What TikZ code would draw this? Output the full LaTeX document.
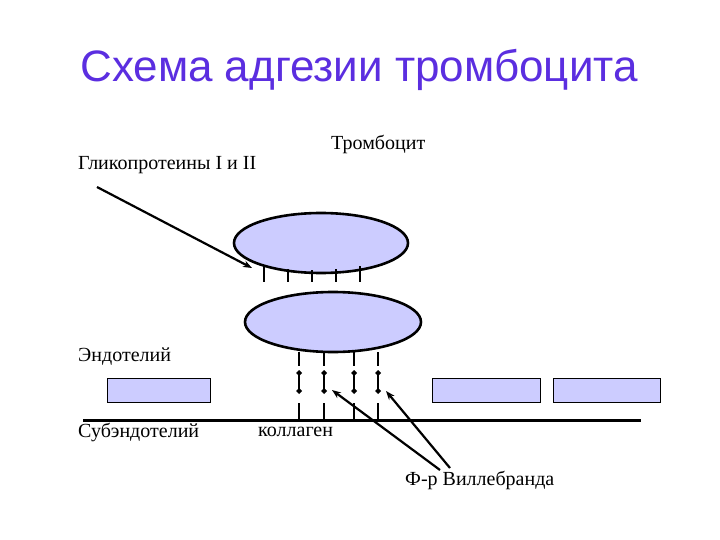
\documentclass[tikz,border=0pt]{standalone}
\usepackage{fontspec}
\setmainfont{Liberation Serif}
\newfontfamily\titlefont{Liberation Sans}
\usetikzlibrary{arrows.meta}
\definecolor{cellfill}{HTML}{CCCCFF}
\definecolor{titlecol}{HTML}{5B2EE0}
\begin{document}
\begin{tikzpicture}[x=1pt,y=-1pt,
  lbl/.style={anchor=west,inner sep=0pt,font=\fontsize{20}{24}\selectfont},
  tick/.style={line width=2.4pt},
  rectbox/.style={draw,line width=1pt,fill=cellfill},
  ptr/.style={line width=2.2pt,-{Stealth[length=9pt]}}]
\useasboundingbox (0,0) rectangle (720,540);
\node[font=\titlefont\fontsize{44}{50}\selectfont,text=titlecol] (title) at (359,70) {Схема адгезии тромбоцита};
\node[lbl] (trom) at (331,144) {Тромбоцит};
\node[lbl] (glyc) at (78,165) {Гликопротеины I и II};
\node[lbl] (endo) at (78,357) {Эндотелий};
\node[lbl] (sub) at (78,432) {Субэндотелий};
\node[lbl] (coll) at (258,432) {коллаген};
\node[lbl] (vwf) at (405,480) {Ф-р Виллебранда};
\filldraw[fill=cellfill,line width=2.6pt] (321,243) ellipse (87 and 30);
\filldraw[fill=cellfill,line width=2.6pt] (333,322) ellipse (88 and 30);
\foreach \x/\t in {264/265,288/269,312/270,336/269,360/266}
  \draw[tick] (\x,\t) -- (\x,282);
\foreach \x in {299,324,354,378}{
  \draw[tick] (\x,352) -- (\x,366);
  \draw[tick] (\x,371) -- (\x,393);
  \fill (\x,370) -- ++(3,3) -- ++(-3,3) -- ++(-3,-3) -- cycle;
  \fill (\x,394) -- ++(3,-3) -- ++(-3,-3) -- ++(-3,3) -- cycle;
  \draw[tick] (\x,403) -- (\x,420);
}
\draw[line width=3pt] (83,420) -- (641,420);
\draw[rectbox] (107,378) rectangle (210,402);
\draw[rectbox] (432,378) rectangle (540,402);
\draw[rectbox] (553,378) rectangle (660,402);
\coordinate (g1) at (97,187); \coordinate (g2) at (252,268);
\draw[ptr] (g1) -- (g2);
\coordinate (v0) at (440,470); \coordinate (v1) at (332,390);
\coordinate (w0) at (450,468); \coordinate (w1) at (386,391);
\draw[ptr] (v0) -- (v1);
\draw[ptr] (w0) -- (w1);
\end{tikzpicture}
\end{document}
